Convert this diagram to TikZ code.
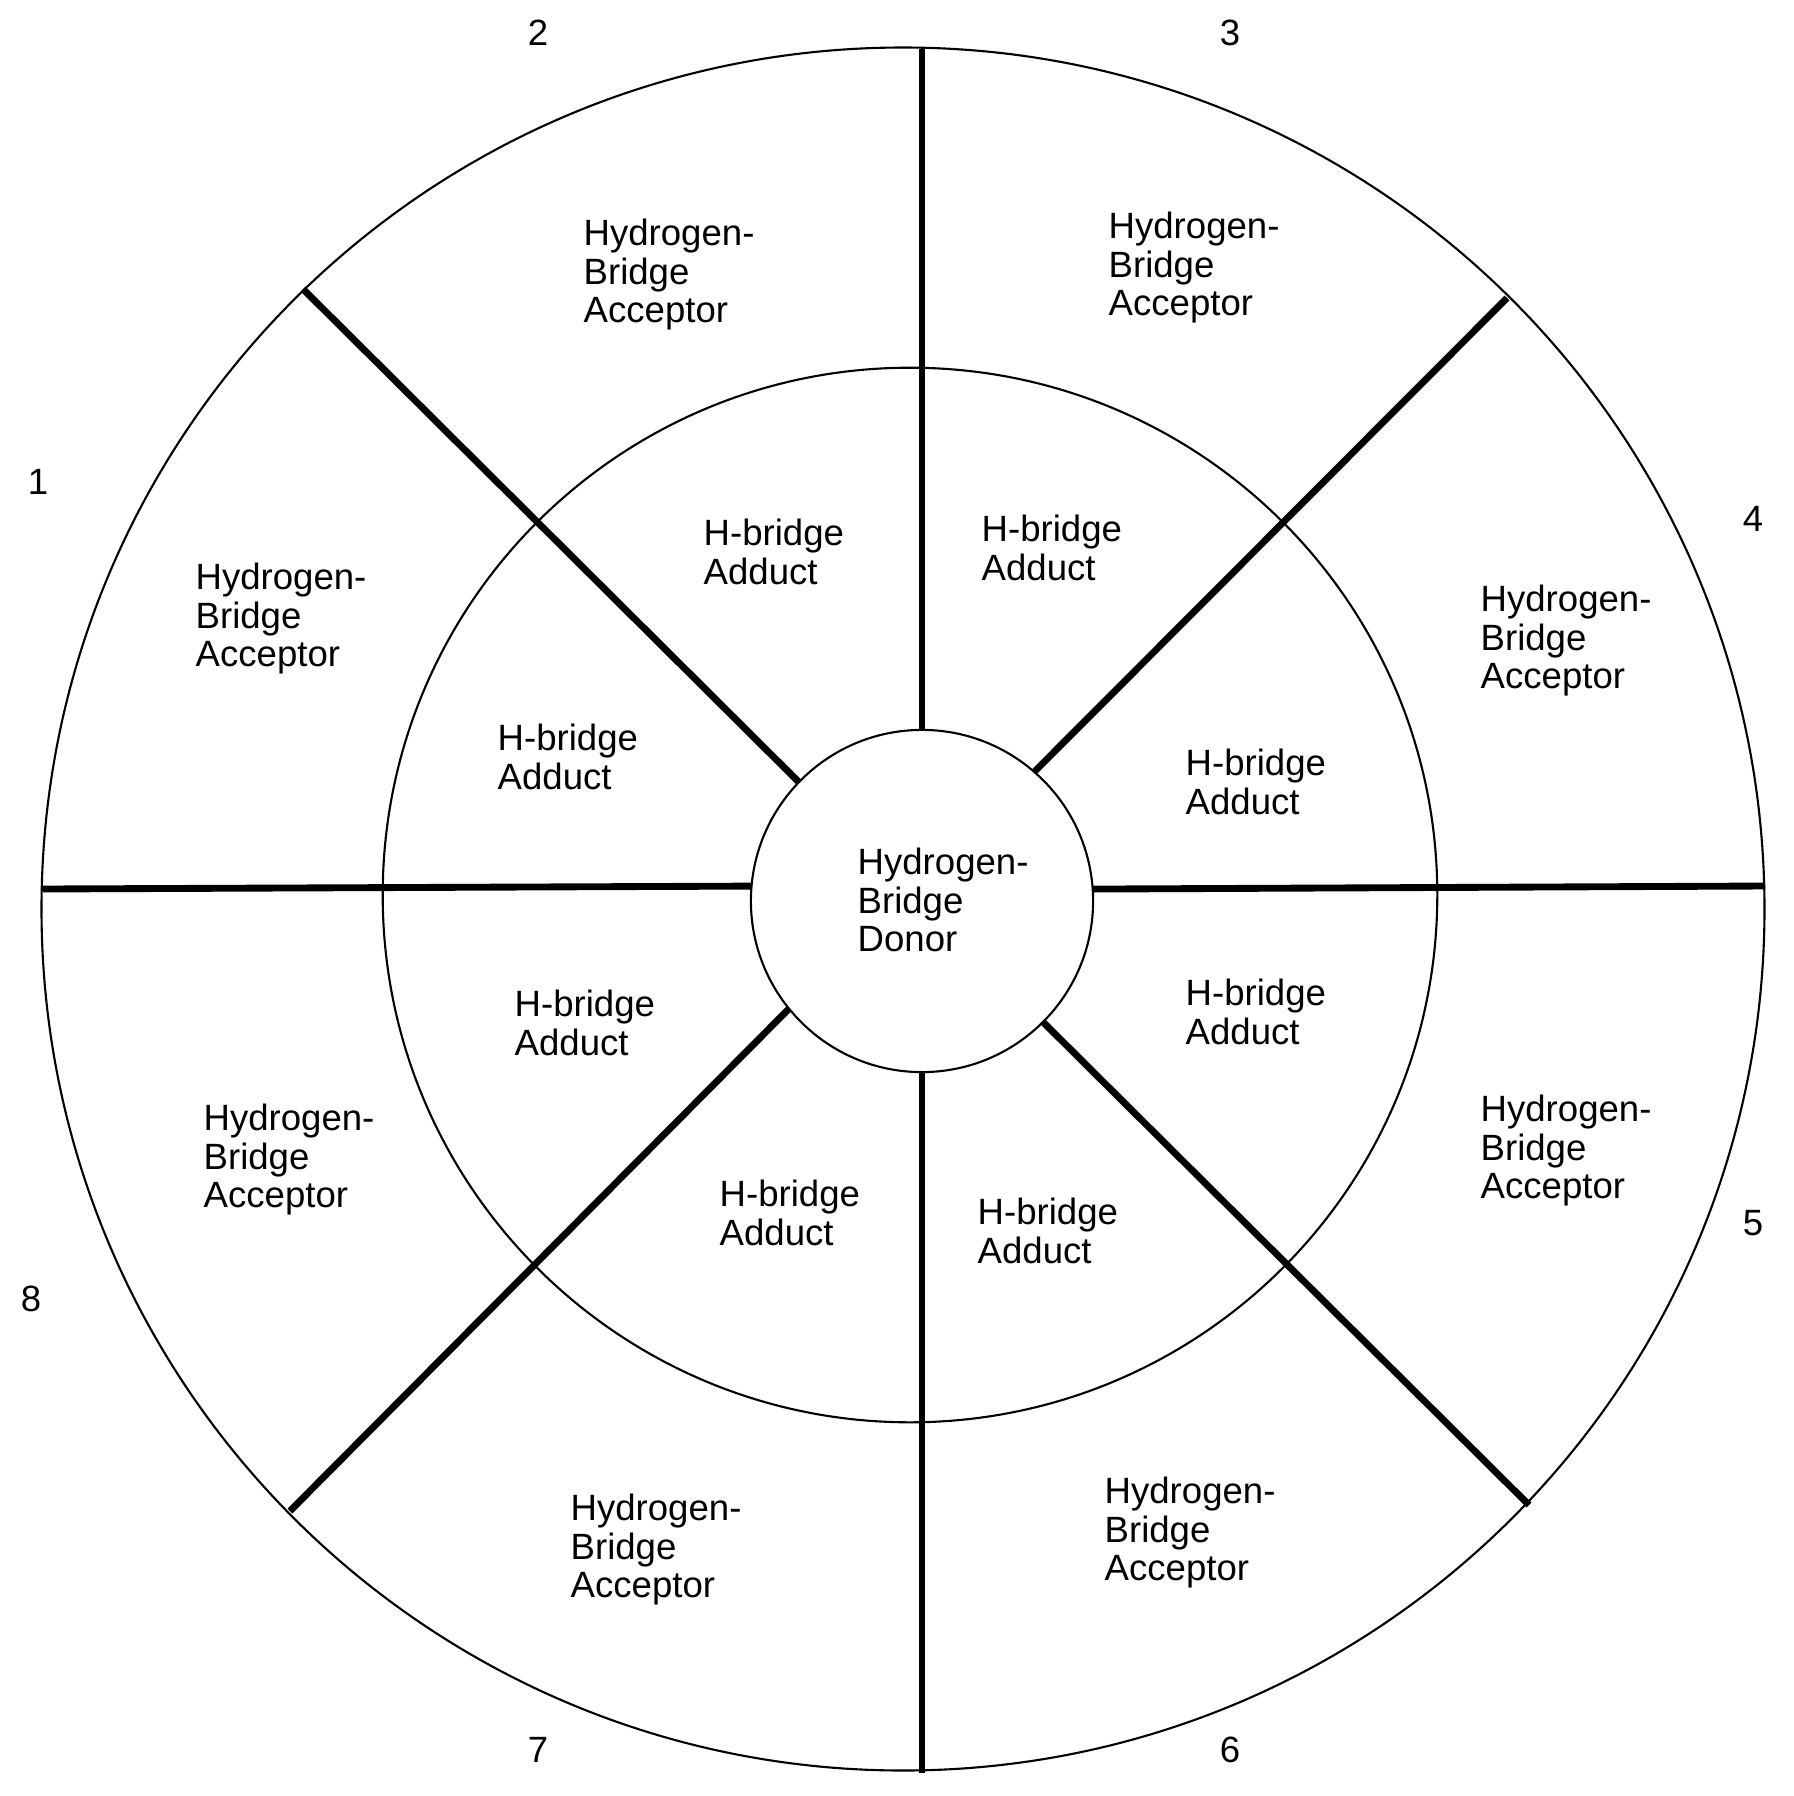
\documentclass[tikz,border=0pt]{standalone}
\usepackage{fontspec}
\setmainfont{Liberation Sans}
\tikzset{ ring/.style = { circle
                        , draw
                        , line width   = 0.6pt
                        , inner sep    = 0pt
                        , outer sep    = 0pt
                        },
          spoke/.style = { draw
                         , line width = 1.95pt
                         },
          lbl/.style = { anchor    = north west
                       , align     = left
                       , inner sep = 0pt
                       , font      = \fontsize{10.4pt}{11.05pt}\selectfont
                       },
          num/.style = { inner sep = 0pt
                       , font      = \fontsize{10.4pt}{11.05pt}\selectfont
                       }
        }

\begin{document}
\begin{tikzpicture}[x=0.01cm, y=-0.01cm]
            \useasboundingbox (0,0) rectangle (1794,1796);
            \node[ring, minimum size=17.22cm] (outer) at (903,909) {};
            \node[ring, minimum size=10.54cm] (inner) at (910,895) {};
            \node[ring, minimum size=3.42cm]  (donor) at (922,901) {};
            % outer ends of the spokes
            \coordinate (o1) at (922,49);
            \coordinate (o2) at (1507,298);
            \coordinate (o3) at (1765,886);
            \coordinate (o4) at (1529,1505);
            \coordinate (o5) at (922,1773);
            \coordinate (o6) at (290,1511);
            \coordinate (o7) at (43,889);
            \coordinate (o8) at (303,289);
            \path[spoke] (donor.90) -- (o1);
            \path[spoke] (donor.49.3) -- (o2);
            \path[spoke] (donor.4.4) -- (o3);
            \path[spoke] (donor.315.4) -- (o4);
            \path[spoke] (donor.270) -- (o5);
            \path[spoke] (donor.219.9) -- (o6);
            \path[spoke] (donor.175.7) -- (o7);
            \path[spoke] (donor.136.5) -- (o8);
            \node[lbl] (dtxt) at (857,847) {Hydrogen-\\Bridge\\Donor};
            \node[lbl] (add1) at (497,723)  {H-bridge\\Adduct};
            \node[lbl] (add2) at (703,518)  {H-bridge\\Adduct};
            \node[lbl] (add3) at (981,514)  {H-bridge\\Adduct};
            \node[lbl] (add4) at (1185,748) {H-bridge\\Adduct};
            \node[lbl] (add5) at (1185,978) {H-bridge\\Adduct};
            \node[lbl] (add6) at (977,1197) {H-bridge\\Adduct};
            \node[lbl] (add7) at (719,1179) {H-bridge\\Adduct};
            \node[lbl] (add8) at (514,989)  {H-bridge\\Adduct};
            \node[lbl] (acc1) at (195,562)  {Hydrogen-\\Bridge\\Acceptor};
            \node[lbl] (acc2) at (583,218)  {Hydrogen-\\Bridge\\Acceptor};
            \node[lbl] (acc3) at (1108,211) {Hydrogen-\\Bridge\\Acceptor};
            \node[lbl] (acc4) at (1480,584) {Hydrogen-\\Bridge\\Acceptor};
            \node[lbl] (acc5) at (1480,1094) {Hydrogen-\\Bridge\\Acceptor};
            \node[lbl] (acc6) at (1104,1476) {Hydrogen-\\Bridge\\Acceptor};
            \node[lbl] (acc7) at (570,1493) {Hydrogen-\\Bridge\\Acceptor};
            \node[lbl] (acc8) at (203,1103) {Hydrogen-\\Bridge\\Acceptor};
            \node[num] (n1) at (38,482)   {1};
            \node[num] (n2) at (538,33)   {2};
            \node[num] (n3) at (1230,33)  {3};
            \node[num] (n4) at (1753,519) {4};
            \node[num] (n5) at (1753,1223) {5};
            \node[num] (n6) at (1230,1750) {6};
            \node[num] (n7) at (538,1750) {7};
            \node[num] (n8) at (31,1299)  {8};
\end{tikzpicture}
\end{document}
